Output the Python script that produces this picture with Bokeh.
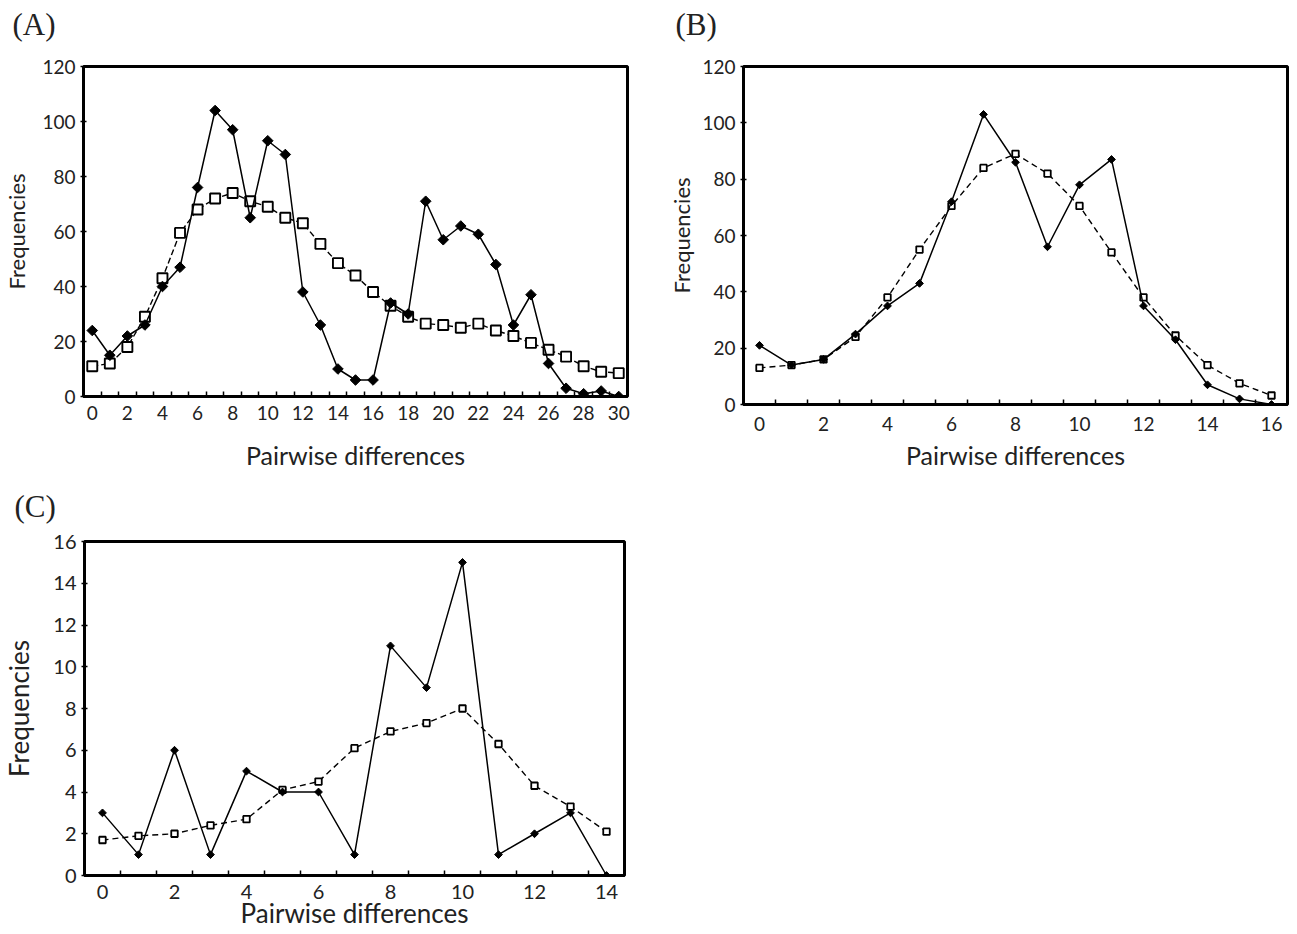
from bokeh.plotting import figure
from bokeh.layouts import column, row
from bokeh.models import Range1d, FixedTicker, Title
from bokeh.embed import file_html
from bokeh.resources import INLINE

# ---------------- data ----------------
a_x = list(range(31))
a_observed = [24, 15, 22, 26, 40, 47, 76, 104, 97, 65, 93, 88, 38, 26, 10, 6, 6,
              34, 30, 71, 57, 62, 59, 48, 26, 37, 12, 3, 1, 2, 0]
a_expected = [11, 12, 18, 29, 43, 59.5, 68, 72, 74, 71, 69, 65, 63, 55.5, 48.5, 44,
              38, 33, 29, 26.5, 26, 25, 26.5, 24, 22, 19.5, 17, 14.5, 11, 9, 8.5]

b_x = list(range(17))
b_observed = [21, 14, 16, 25, 35, 43, 72, 103, 86, 56, 78, 87, 35, 23, 7, 2, 0]
b_expected = [13, 14, 16, 24, 38, 55, 70.5, 84, 89, 82, 70.5, 54, 38, 24.5, 14, 7.5, 3.2]

c_x = list(range(15))
c_observed = [3, 1, 6, 1, 5, 4, 4, 1, 11, 9, 15, 1, 2, 3, 0]
c_expected = [1.7, 1.9, 2.0, 2.4, 2.7, 4.1, 4.5, 6.1, 6.9, 7.3, 8.0, 6.3, 4.3, 3.3, 2.1]

a_yticks = [0, 20, 40, 60, 80, 100, 120]
b_yticks = [0, 20, 40, 60, 80, 100, 120]
c_yticks = [0, 2, 4, 6, 8, 10, 12, 14, 16]

SANS = "Lato"
SERIF = "Liberation Serif"


def make_panel(xs, obs, exp, yticks, letter, width, height, bl, br, bt, bb,
               sq_size, sq_lw, dm_size, dash, title_offset, spacer_size,
               xtick_standoff, xlab_standoff, ylab_standoff,
               tick_size, xlab_size, ylab_size):
    n = len(xs)
    p = figure(width=width, height=height, output_backend="svg", toolbar_location=None,
               x_range=Range1d(-0.5, n - 0.5), y_range=Range1d(yticks[0], yticks[-1]),
               min_border_left=bl, min_border_right=br, min_border_top=bt,
               min_border_bottom=bb)
    p.background_fill_color = "white"
    p.border_fill_color = "white"
    p.outline_line_color = "black"
    p.outline_line_width = 3
    p.xgrid.grid_line_color = None
    p.ygrid.grid_line_color = None

    # spacer between the panel letter and the frame, then the letter itself
    p.add_layout(Title(text=" ", text_font_size=spacer_size, standoff=0), "above")
    p.add_layout(Title(text=letter, align="left", offset=title_offset, standoff=0,
                       text_font=SERIF, text_font_size="31px",
                       text_font_style="normal", text_color="#222222"), "above")

    # x axis: labels on even categories, tick marks between categories
    p.xaxis.ticker = FixedTicker(ticks=[v for v in xs if v % 2 == 0],
                                 minor_ticks=[v + 0.5 for v in xs[:-1]])
    p.xaxis.major_tick_in = 0
    p.xaxis.major_tick_out = 0
    p.xaxis.minor_tick_in = 5
    p.xaxis.minor_tick_out = 0
    p.xaxis.minor_tick_line_width = 1.5
    p.xaxis.axis_line_width = 3
    p.xaxis.major_label_standoff = xtick_standoff
    p.xaxis.axis_label = "Pairwise differences"
    p.xaxis.axis_label_standoff = xlab_standoff
    p.xaxis.axis_label_text_font_size = xlab_size

    p.yaxis.ticker = FixedTicker(ticks=yticks)
    p.yaxis.major_tick_in = 3
    p.yaxis.major_tick_out = 3
    p.yaxis.major_tick_line_width = 1.5
    p.yaxis.minor_tick_line_color = None
    p.yaxis.axis_line_width = 3
    p.yaxis.major_label_standoff = 5
    p.yaxis.axis_label = "Frequencies"
    p.yaxis.axis_label_standoff = ylab_standoff
    p.yaxis.axis_label_text_font_size = ylab_size

    for ax in (p.xaxis, p.yaxis):
        ax.major_label_text_font = SANS
        ax.major_label_text_font_size = tick_size
        ax.major_label_text_color = "#222222"
        ax.axis_label_text_font = SANS
        ax.axis_label_text_font_style = "normal"
        ax.axis_label_text_color = "#222222"

    # expected (open squares, dashed)
    p.line(xs, exp, line_color="black", line_width=1.4, line_dash=dash)
    p.scatter(xs, exp, marker="square", size=sq_size, fill_color="white",
              line_color="black", line_width=sq_lw)
    # observed (filled diamonds, solid)
    p.line(xs, obs, line_color="black", line_width=1.5)
    p.scatter(xs, obs, marker="square", angle=0.785398, size=dm_size,
              fill_color="black", line_color="black")
    return p


pa = make_panel(a_x, a_observed, a_expected, a_yticks, "(A)", 658, 478,
                81, 31, 63, 81, 10, 1.9, 7.5, "6 3", -71, "21px",
                9, 17, 9, "19px", "25px", "22px")
pb = make_panel(b_x, b_observed, b_expected, b_yticks, "(B)", 639, 486,
                85, 10, 66, 82, 6.5, 1.8, 5.5, "6 4", -68, "21px",
                12, 6, 4, "19px", "25px", "22px")
pc = make_panel(c_x, c_observed, c_expected, c_yticks, "(C)", 658, 448,
                81, 34, 55, 59, 6.5, 1.8, 5.5, "6 4", -70, "14px",
                9, -5, 15, "20px", "26px", "26px")

layout = column(row(pa, pb), pc)
open("out.html", "w").write(file_html(layout, INLINE))
